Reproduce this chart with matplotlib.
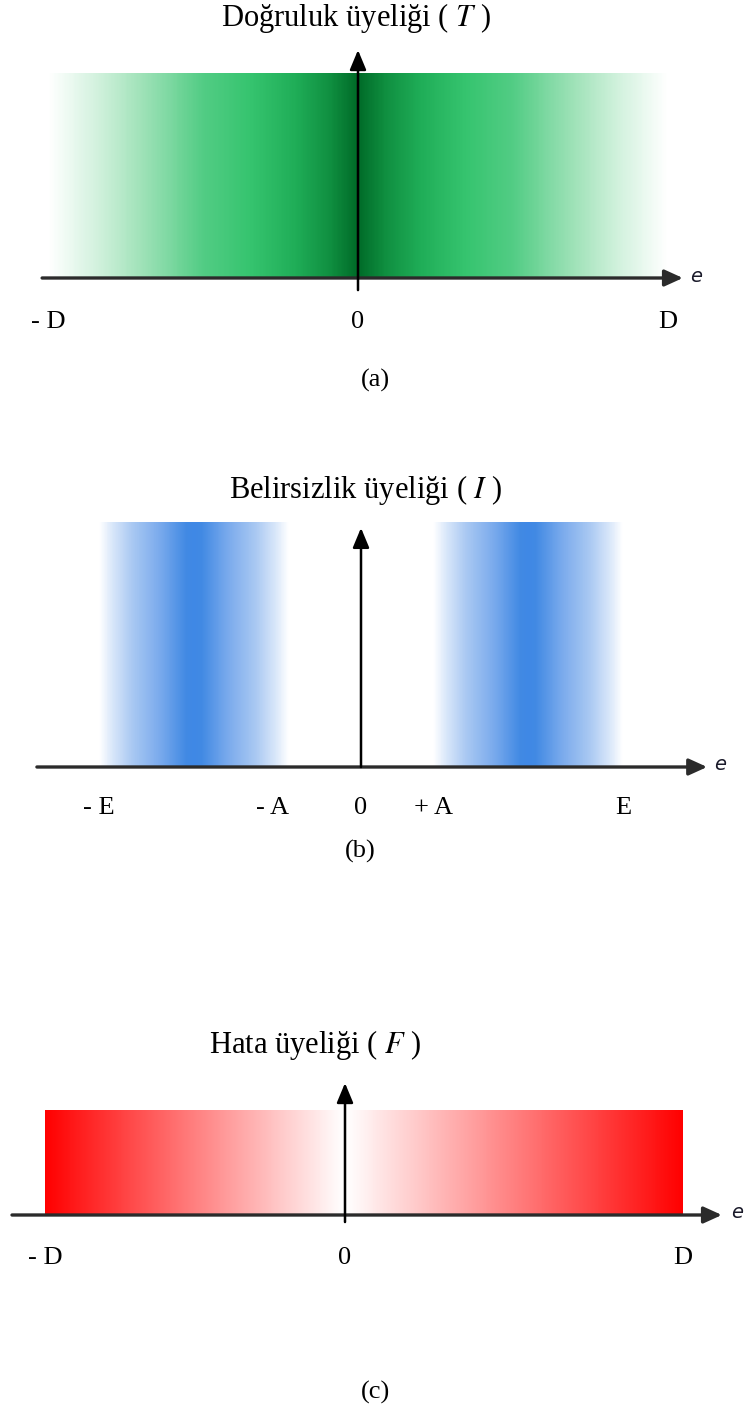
import numpy as np
import matplotlib.pyplot as plt
from matplotlib.colors import LinearSegmentedColormap

plt.rcParams['font.family'] = ['Liberation Serif', 'DejaVu Serif']
plt.rcParams['mathtext.fontset'] = 'stix'

W, H = 750, 1410

# (a) dogruluk uyeligi
t_title = 'Doğruluk üyeliği ( $T$ )'
t_ticks = [-1, 0, 1]
t_labels = ['- D', '0', 'D']
t_band = [-1, 1]
t_level = 1.0

# (b) belirsizlik uyeligi
i_title = 'Belirsizlik üyeliği ( $I$ )'
i_ticks = [-1, -0.275, 0, 0.275, 1]
i_labels = ['- E', '- A', '0', '+ A', 'E']
i_bands = [[-1, -0.275], [0.275, 1]]
i_level = 1.0

# (c) hata uyeligi
f_title = 'Hata üyeliği ( $F$ )'
f_ticks = [-1, 0, 1]
f_labels = ['- D', '0', 'D']
f_band = [-1, 1]
f_level = 1.0

green = LinearSegmentedColormap.from_list('green', [
    (0, '#006b28'), (0.08, '#0e8c3e'), (0.2, '#1fad57'), (0.35, '#36c46f'),
    (0.5, '#52cc84'), (0.7, '#a0e2b9'), (0.85, '#d4f2df'), (1, '#ffffff')])
blue = LinearSegmentedColormap.from_list('blue', [
    (0, '#3f88e5'), (0.08, '#4189e3'), (0.35, '#78a9ec'), (0.65, '#a9c8f2'),
    (0.85, '#d6e5f9'), (1, '#ffffff')])
red = LinearSegmentedColormap.from_list('red', ['#ffffff', '#ff0000'])

fig = plt.figure(figsize=(W / 100, H / 100), dpi=100)


def panel(top, bottom, axis_y, band_top, center, left, right):
    ax = fig.add_axes([0, 1 - bottom / H, 1, (bottom - top) / H])
    ax.set_xscale('function', functions=(
        lambda x: np.where(x < 0, x * left, x * right),
        lambda y: np.where(y < 0, y / left, y / right)))
    ax.set_xlim(-center / left, (W - center) / right)
    unit = axis_y - band_top
    ax.set_ylim((axis_y - bottom) / unit, (axis_y - top) / unit)
    ax.axis('off')
    return ax


def band(ax, lo, hi, level, cmap, mid, half):
    xs = np.linspace(lo, hi, 501)
    xc = (xs[:-1] + xs[1:]) / 2
    val = np.abs(xc - mid) / half
    ax.pcolormesh(xs, [0, level], val[None, :], cmap=cmap, vmin=0, vmax=1,
                  shading='flat', edgecolors='none', antialiased=False, zorder=1)


def axes_arrows(ax, xmin, xmax, foot, tip, e_dx, lw_h, col_h):
    ax.annotate('', xy=(xmax, 0), xytext=(xmin, 0),
                arrowprops=dict(arrowstyle='-|>,head_length=0.55,head_width=0.25',
                                color=col_h, lw=lw_h, mutation_scale=20,
                                shrinkA=0, shrinkB=0), zorder=4)
    ax.annotate('', xy=(0, tip), xytext=(0, foot),
                arrowprops=dict(arrowstyle='-|>,head_length=0.6,head_width=0.25',
                                color='black', lw=1.8, mutation_scale=20,
                                shrinkA=0, shrinkB=0), zorder=4)
    ax.annotate('e', xy=(xmax, 0), xytext=(e_dx, 2), textcoords='offset pixels',
                ha='left', va='center', family='DejaVu Sans', style='italic',
                fontsize=14, color='#1a1a2a')


def title(ax, text, tip, dx, dy):
    ax.annotate(text, xy=(0, tip), xytext=(dx, dy), textcoords='offset pixels',
                ha='center', va='center', fontsize=22)


def ticklabels(ax, ticks, labels, aligns, dy):
    for v, lab, ha in zip(ticks, labels, aligns):
        ax.annotate(lab, xy=(v, 0), xytext=(0, dy), textcoords='offset pixels',
                    ha=ha, va='center', fontsize=19)


# (a)
ax1 = panel(0, 430, 278, 73, 358, 310, 310)
band(ax1, t_band[0], t_band[1], t_level, green, 0, 1)
axes_arrows(ax1, -1.019, 1.048, -0.059, 1.112, 7, 2.4, '#2b2b2b')
title(ax1, t_title, 1.112, -2, 32)
ticklabels(ax1, t_ticks, t_labels, ['center'] * 3, -44)

# (b)
ax2 = panel(440, 900, 767, 522, 361, 262, 262)
for lo, hi in i_bands:
    band(ax2, lo, hi, i_level, blue, (lo + hi) / 2, (hi - lo) / 2)
axes_arrows(ax2, -1.237, 1.321, 0, 0.976, 7, 2.4, '#2b2b2b')
title(ax2, i_title, 0.976, 5, 38)
ticklabels(ax2, i_ticks, i_labels,
           ['center', 'right', 'center', 'center', 'center'], -41)

# (c)
ax3 = panel(1000, 1410, 1215, 1110, 345, 300, 338)
band(ax3, f_band[0], f_band[1], f_level, red, 0, 1)
axes_arrows(ax3, -1.11, 1.115, -0.067, 1.257, 9, 2.4, '#2b2b2b')
title(ax3, f_title, 1.257, -30, 38)
ticklabels(ax3, f_ticks, f_labels, ['center'] * 3, -43)

for cap, x, y in [('(a)', 375, 380), ('(b)', 360, 851), ('(c)', 375, 1392)]:
    fig.text(x / W, 1 - y / H, cap, ha='center', va='center', fontsize=19)

fig.savefig('out.png', dpi=100)
